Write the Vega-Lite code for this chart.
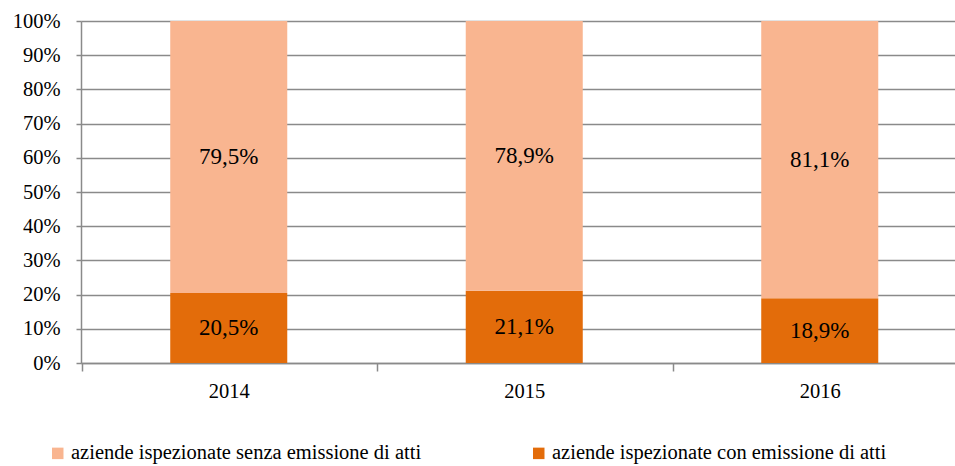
{
  "$schema": "https://vega.github.io/schema/vega-lite/v6.json",
  "width": 874,
  "height": 342,
  "autosize": {"type": "none"},
  "padding": {"left": 81, "top": 21, "right": 0, "bottom": 103},
  "background": "white",
  "config": {
    "view": {"stroke": null},
    "font": "Liberation Serif",
    "axis": {"labelFont": "Liberation Serif", "titleFont": "Liberation Serif"},
    "legend": {"labelFont": "Liberation Serif", "titleFont": "Liberation Serif"},
    "text": {"font": "Liberation Serif"},
    "locale": {"number": {"decimal": ",", "thousands": ".", "grouping": [3], "currency": ["", " €"]}}
  },
  "data": {
    "values": [
      {"anno": "2014", "cat": "aziende ispezionate con emissione di atti", "v": 0.205},
      {"anno": "2014", "cat": "aziende ispezionate senza emissione di atti", "v": 0.795},
      {"anno": "2015", "cat": "aziende ispezionate con emissione di atti", "v": 0.211},
      {"anno": "2015", "cat": "aziende ispezionate senza emissione di atti", "v": 0.789},
      {"anno": "2016", "cat": "aziende ispezionate con emissione di atti", "v": 0.189},
      {"anno": "2016", "cat": "aziende ispezionate senza emissione di atti", "v": 0.811}
    ]
  },
  "encoding": {
    "x": {
      "field": "anno", "type": "nominal",
      "scale": {"paddingInner": 0.604, "paddingOuter": 0.302, "range": [0, 886.5]},
      "axis": {
        "title": null, "labelAngle": 0, "labelFontSize": 20.5, "labelColor": "black",
        "labelFont": "Liberation Serif",
        "domainColor": "#8a8a8a", "domainWidth": 1.5,
        "bandPosition": 0, "tickOffset": -88.7, "labelOffset": 88.7,
        "tickColor": "#8a8a8a", "tickWidth": 1.5, "tickSize": 8,
        "labelPadding": 10
      }
    },
    "order": {"field": "cat", "sort": "ascending"}
  },
  "layer": [
    {
      "mark": {"type": "bar"},
      "encoding": {
        "y": {
          "field": "v", "type": "quantitative", "stack": "zero",
          "scale": {"domain": [0, 1], "nice": false, "clamp": true},
          "axis": {
            "title": null, "format": ".0%", "values": [0, 0.1, 0.2, 0.3, 0.4, 0.5, 0.6, 0.7, 0.8, 0.9, 1],
            "labelOverlap": false, "labelFont": "Liberation Serif",
            "labelFontSize": 20.5, "labelColor": "black", "labelPadding": 16,
            "domainColor": "#8a8a8a", "domainWidth": 1.5,
            "tickColor": "#8a8a8a", "tickWidth": 1.5, "tickSize": 5,
            "grid": true, "gridColor": "#8a8a8a", "gridWidth": 1.5
          }
        },
        "color": {
          "field": "cat", "type": "nominal",
          "scale": {
            "domain": ["aziende ispezionate senza emissione di atti", "aziende ispezionate con emissione di atti"],
            "range": ["#F9B590", "#E36C0A"]
          },
          "legend": {
            "title": null, "orient": "none", "direction": "horizontal", "columns": 2,
            "legendX": -33.5, "legendY": 422, "padding": 0,
            "symbolType": "square", "symbolSize": 132, "symbolStrokeWidth": 0, "symbolOpacity": 1,
            "labelFont": "Liberation Serif",
            "labelFontSize": 20.5, "labelColor": "black", "labelOffset": 3, "labelLimit": 500,
            "columnPadding": 107
          }
        }
      }
    },
    {
      "mark": {"type": "text", "fontSize": 23, "color": "black", "baseline": "middle", "font": "Liberation Serif"},
      "encoding": {
        "y": {
          "field": "v", "type": "quantitative", "stack": "zero", "bandPosition": 0.5,
          "scale": {"domain": [0, 1], "nice": false, "clamp": true},
          "axis": {
            "title": null, "format": ".0%", "values": [0, 0.1, 0.2, 0.3, 0.4, 0.5, 0.6, 0.7, 0.8, 0.9, 1],
            "labelOverlap": false, "labelFont": "Liberation Serif",
            "labelFontSize": 20.5, "labelColor": "black", "labelPadding": 16,
            "domainColor": "#8a8a8a", "domainWidth": 1.5,
            "tickColor": "#8a8a8a", "tickWidth": 1.5, "tickSize": 5,
            "grid": true, "gridColor": "#8a8a8a", "gridWidth": 1.5
          }
        },
        "text": {"field": "v", "type": "quantitative", "format": ".1%"}
      }
    }
  ]
}
